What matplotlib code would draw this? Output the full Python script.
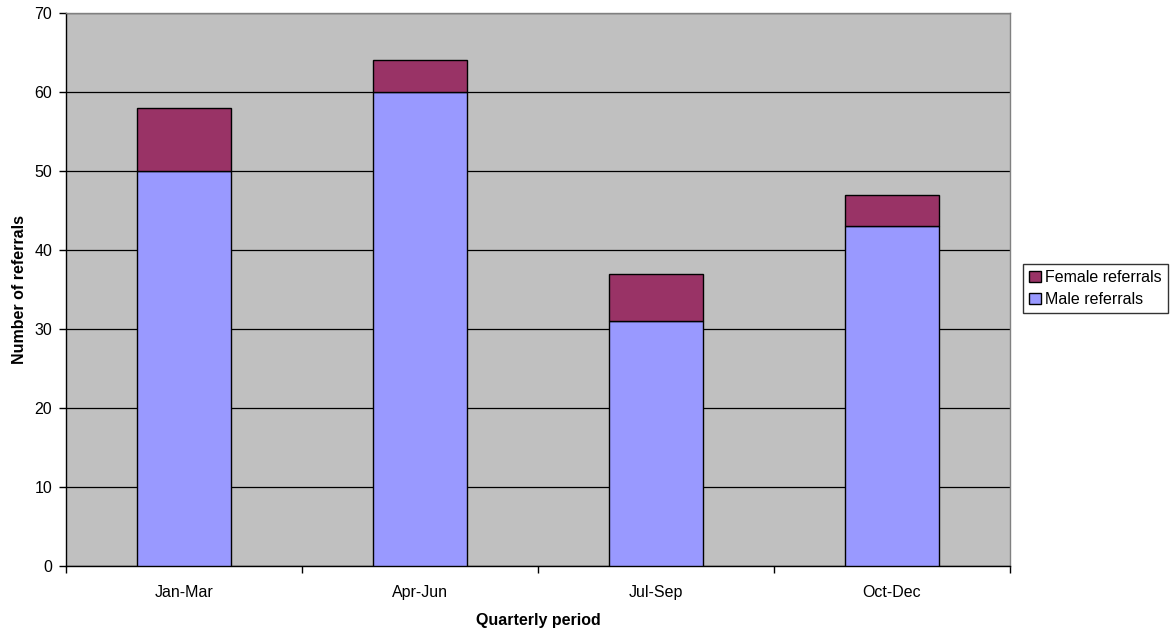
import matplotlib
matplotlib.use("Agg")
import matplotlib.pyplot as plt
import numpy as np

quarters = ["Jan-Mar", "Apr-Jun", "Jul-Sep", "Oct-Dec"]
male_referrals = [50, 60, 31, 43]
female_referrals = [8, 4, 6, 4]

plt.rcParams['font.family'] = ['Liberation Sans', 'DejaVu Sans']

fig = plt.figure(figsize=(11.71, 6.33), dpi=100)
ax = fig.add_axes([66/1171, 1 - 566/633, (1010 - 66)/1171, (566 - 13)/633])
ax.set_facecolor("#C0C0C0")

x = np.arange(len(quarters))
width = 0.4
ax.bar(x, male_referrals, width, color="#9999FF", edgecolor="black",
       linewidth=1, label="Male referrals", zorder=3)
ax.bar(x, female_referrals, width, bottom=male_referrals, color="#993366",
       edgecolor="black", linewidth=1, label="Female referrals", zorder=3)

ax.set_xlim(-0.5, len(quarters) - 0.5)
ax.set_ylim(0, 70)
ax.set_yticks(range(0, 71, 10))
ax.yaxis.grid(True, color="black", linewidth=0.9, zorder=1)
ax.set_axisbelow(True)

ax.set_xticks(x)
ax.set_xticklabels(quarters, fontsize=11.5)
ax.set_xticks(np.arange(-0.5, len(quarters)), minor=True)
ax.tick_params(axis="x", which="major", length=0, pad=14)
ax.tick_params(axis="x", which="minor", length=5, width=1, color="black")
ax.tick_params(axis="y", length=5, width=1, labelsize=11.5, pad=5)

for side in ("left", "bottom"):
    ax.spines[side].set_color("black")
    ax.spines[side].set_linewidth(1)
for side in ("top", "right"):
    ax.spines[side].set_color("#808080")
    ax.spines[side].set_linewidth(1)

ax.set_xlabel("Quarterly period", fontsize=11.5, fontweight="bold", labelpad=9)
ax.set_ylabel("Number of referrals", fontsize=11.5, fontweight="bold", labelpad=5)

handles, labels = ax.get_legend_handles_labels()
leg = fig.legend(handles[::-1], labels[::-1], loc="upper left",
                 bbox_to_anchor=(1023/1171, 1 - 264/633), fontsize=11.5,
                 frameon=True, fancybox=False, edgecolor="black",
                 handlelength=0.7, handleheight=0.7, handletextpad=0.3,
                 borderpad=0.4, labelspacing=0.4, borderaxespad=0)
leg.get_frame().set_linewidth(1)

fig.savefig("out.png", dpi=100, facecolor="white")
